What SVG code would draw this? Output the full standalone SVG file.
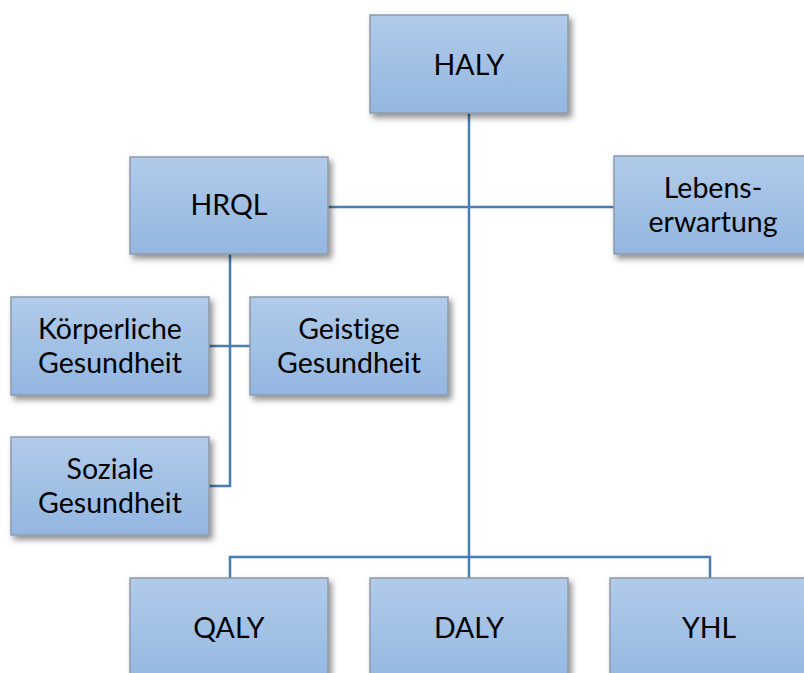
<svg xmlns="http://www.w3.org/2000/svg" width="804" height="673" viewBox="0 0 804 673">
<defs>
<linearGradient id="g" x1="0" y1="0" x2="0" y2="1">
<stop offset="0" stop-color="#b1cbea"/>
<stop offset="1" stop-color="#93b6e0"/>
</linearGradient>
<filter id="sh" x="-10%" y="-10%" width="130%" height="130%">
<feDropShadow dx="3" dy="4" stdDeviation="3" flood-color="#000" flood-opacity="0.45"/>
</filter>
</defs>
<style>
.b{fill:url(#g);stroke:#8c9aab;stroke-width:1.5;filter:url(#sh)}
.t{font-family:Lato,"Open Sans","Liberation Sans",sans-serif;font-size:28.5px;fill:#000;text-anchor:middle;font-variant-ligatures:none;font-feature-settings:"liga" 0}
.c{fill:none;stroke:#4a7db0;stroke-width:2.5}
</style>
<rect width="804" height="673" fill="#fff"/>
<g id="connectors">
<path class="c" d="M469 113V578"/>
<path class="c" d="M328 207H614"/>
<path class="c" d="M230 254V486H209"/>
<path class="c" d="M209 346H250"/>
<path class="c" d="M230 578V557H710V578"/>
</g>
<g id="haly"><rect class="b" x="370" y="15" width="198" height="98"/><text class="t" x="469" y="75">HALY</text></g>
<g id="hrql"><rect class="b" x="130" y="157" width="198" height="97"/><text class="t" x="229" y="215">HRQL</text></g>
<g id="lebens"><rect class="b" x="614" y="156" width="198" height="98"/><text class="t" x="713" y="198">Lebens-</text><text class="t" x="713" y="232">erwartung</text></g>
<g id="koerper"><rect class="b" x="11" y="297" width="198" height="98"/><text class="t" x="110" y="339">Körperliche</text><text class="t" x="110" y="373">Gesundheit</text></g>
<g id="geistig"><rect class="b" x="250" y="297" width="198" height="98"/><text class="t" x="349" y="339">Geistige</text><text class="t" x="349" y="373">Gesundheit</text></g>
<g id="sozial"><rect class="b" x="11" y="437" width="198" height="98"/><text class="t" x="110" y="479">Soziale</text><text class="t" x="110" y="513">Gesundheit</text></g>
<g id="qaly"><rect class="b" x="130" y="578" width="198" height="110"/><text class="t" x="229" y="638">QALY</text></g>
<g id="daly"><rect class="b" x="370" y="578" width="198" height="110"/><text class="t" x="469" y="638">DALY</text></g>
<g id="yhl"><rect class="b" x="610" y="578" width="198" height="110"/><text class="t" x="709" y="638">YHL</text></g>
</svg>
